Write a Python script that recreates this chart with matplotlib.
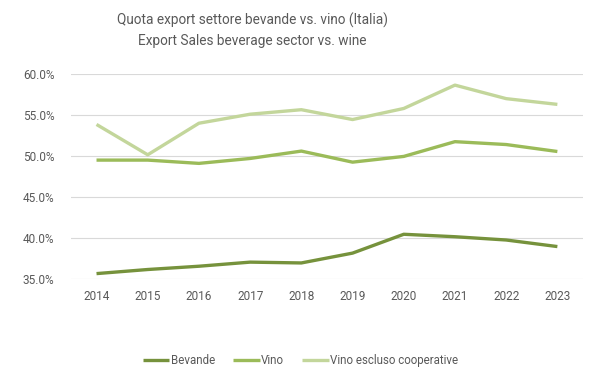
import matplotlib.pyplot as plt
from matplotlib.ticker import PercentFormatter

years = ['2014', '2015', '2016', '2017', '2018', '2019', '2020', '2021', '2022', '2023']
bevande = [35.7, 36.2, 36.6, 37.1, 37.0, 38.2, 40.5, 40.2, 39.8, 39.0]
vino = [49.55, 49.55, 49.15, 49.75, 50.65, 49.3, 50.0, 51.8, 51.45, 50.6]
vino_escluso = [53.9, 50.2, 54.05, 55.15, 55.7, 54.5, 55.85, 58.7, 57.05, 56.35]

plt.rcParams['font.family'] = ['Roboto', 'DejaVu Sans']
grey = '#595959'

fig = plt.figure(figsize=(6.01, 3.78), dpi=100)
ax = fig.add_axes([0.118, 0.261, 0.852, 0.542])

x = range(len(years))
ax.plot(x, bevande, color='#76923C', lw=2.4, label='Bevande', solid_capstyle='butt')
ax.plot(x, vino, color='#9BBB59', lw=2.4, label='Vino', solid_capstyle='butt')
ax.plot(x, vino_escluso, color='#C3D69B', lw=2.4, label='Vino escluso cooperative', solid_capstyle='butt')

ax.set_xlim(-0.5, len(years) - 0.5)
ax.set_ylim(35, 60)
ax.set_yticks([35, 40, 45, 50, 55, 60])
ax.yaxis.set_major_formatter(PercentFormatter(decimals=1))
ax.set_xticks(list(x))
ax.set_xticklabels(years)
ax.grid(axis='y', color='#d9d9d9', lw=0.8)
ax.set_axisbelow(True)
for s in ax.spines.values():
    s.set_visible(False)
ax.tick_params(length=0, labelsize=8.5, colors=grey)
ax.tick_params(axis='y', pad=12)
ax.tick_params(axis='x', pad=8)

fig.text(0.42, 0.945, 'Quota export settore bevande vs. vino (Italia)', ha='center', va='center',
         fontsize=9.8, color=grey)
fig.text(0.42, 0.892, 'Export Sales beverage sector vs. wine', ha='center', va='center',
         fontsize=9.8, color=grey)

fig.legend(loc='center', bbox_to_anchor=(0.5, 0.045), ncol=3, frameon=False,
           fontsize=8.3, labelcolor=grey, handlelength=2.3, handletextpad=0.1, columnspacing=1.6)

fig.savefig('out.png', dpi=100, facecolor='white')
